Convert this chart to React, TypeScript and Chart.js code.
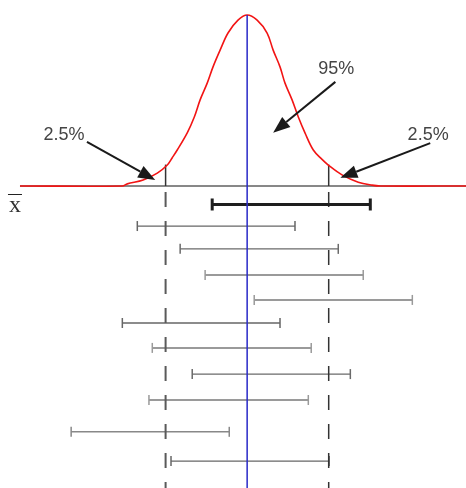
import React, { useEffect, useRef } from "react";
import { Chart, registerables } from "chart.js";

Chart.register(...registerables);

// Sampling distribution curve (z units vs density)
const curveZ = [-5.46, -3.0, -2.88, -2.5, -2.16, -1.92, -1.8, -1.68, -1.44, -1.27, -1.13, -0.96, -0.82, -0.65, -0.46, -0.22, 0, 0.24, 0.48, 0.625, 0.79, 0.91, 1.08, 1.23, 1.39, 1.59, 1.8, 1.95, 2.28, 2.67, 3.0, 3.2, 5.26];
const curveDensity = [0, 0, 0.005, 0.014, 0.03, 0.049, 0.066, 0.084, 0.124, 0.161, 0.201, 0.24, 0.278, 0.317, 0.357, 0.387, 0.399, 0.387, 0.357, 0.317, 0.278, 0.24, 0.201, 0.161, 0.124, 0.084, 0.062, 0.049, 0.026, 0.009, 0.002, 0, 0];

const axisStartZ = -5.46;
const axisEndZ = 5.26;
const meanZ = 0;
const peakDensity = 0.399;
const criticalZ = [-1.96, 1.96];
const criticalDensity = 0.05;

// Confidence intervals: row 0 is the highlighted one
const sampleRows = [0, 0.84, 1.73, 2.75, 3.72, 4.62, 5.59, 6.61, 7.62, 8.86, 10];
const intervalLow = [-0.84, -2.64, -1.61, -1.01, 0.17, -3.0, -2.28, -1.32, -2.36, -4.23, -1.83];
const intervalHigh = [2.96, 1.15, 2.19, 2.79, 3.97, 0.79, 1.54, 2.48, 1.47, -0.43, 1.97];
const dashTopRow = -0.49;
const dashBottomRow = 11.05;

// Annotations
const labelTexts = ["2.5%", "95%", "2.5%"];
const labelZ = [-4.4, 2.14, 4.35];
const labelDensity = [0.119, 0.274, 0.119];
const arrowFromZ = [-3.85, 2.12, 4.4];
const arrowFromDensity = [0.103, 0.243, 0.1];
const arrowToZ = [-2.21, 0.625, 2.24];
const arrowToDensity = [0.014, 0.124, 0.019];
const xbarLabel = "x";
const xbarZ = -5.58;
const xbarDensity = -0.061;

// styles (kept apart from the data)
const rowColors = ["#1e1e1e", "#666", "#6a6a6a", "#9a9a9a", "#9a9a9a", "#666", "#9a9a9a", "#6a6a6a", "#9a9a9a", "#888", "#666"];
const rowWidths = [3, 1.3, 1.3, 2, 2, 1.3, 2, 1.3, 2, 1.5, 1.3];
const rowCapRadius = [6, 5, 5, 5, 5, 5, 5, 5, 5, 5, 5];

const annotationPlugin = {
  id: "annotations",
  afterDatasetsDraw(chart: any) {
    const ctx = chart.ctx as CanvasRenderingContext2D;
    const xs = chart.scales.x;
    const ys = chart.scales.y;
    ctx.save();
    // arrows
    for (let i = 0; i < arrowFromZ.length; i++) {
      const x0 = xs.getPixelForValue(arrowFromZ[i]);
      const y0 = ys.getPixelForValue(arrowFromDensity[i]);
      const x1 = xs.getPixelForValue(arrowToZ[i]);
      const y1 = ys.getPixelForValue(arrowToDensity[i]);
      const ang = Math.atan2(y1 - y0, x1 - x0);
      const headLen = 17;
      const headHalf = 6.5;
      const bx = x1 - Math.cos(ang) * headLen;
      const by = y1 - Math.sin(ang) * headLen;
      ctx.strokeStyle = "#1a1a1a";
      ctx.fillStyle = "#1a1a1a";
      ctx.lineWidth = 2;
      ctx.beginPath();
      ctx.moveTo(x0, y0);
      ctx.lineTo(bx, by);
      ctx.stroke();
      ctx.beginPath();
      ctx.moveTo(x1, y1);
      ctx.lineTo(bx + Math.sin(ang) * headHalf, by - Math.cos(ang) * headHalf);
      ctx.lineTo(bx - Math.sin(ang) * headHalf, by + Math.cos(ang) * headHalf);
      ctx.closePath();
      ctx.fill();
    }
    // percentage labels
    ctx.font = '18px "Liberation Sans", Arial, sans-serif';
    ctx.fillStyle = "#444";
    ctx.textAlign = "center";
    ctx.textBaseline = "middle";
    for (let i = 0; i < labelTexts.length; i++) {
      ctx.fillText(labelTexts[i], xs.getPixelForValue(labelZ[i]), ys.getPixelForValue(labelDensity[i]));
    }
    // x-bar label
    const fx = xs.getPixelForValue(xbarZ);
    const fy = ys.getPixelForValue(xbarDensity);
    ctx.font = '24px "Liberation Serif", "Times New Roman", serif';
    ctx.fillStyle = "#333";
    ctx.textBaseline = "alphabetic";
    ctx.fillText(xbarLabel, fx, fy);
    const w = ctx.measureText(xbarLabel).width;
    ctx.strokeStyle = "#222";
    ctx.lineWidth = 1;
    ctx.beginPath();
    ctx.moveTo(fx - w / 2 - 1, Math.round(fy - 18) + 0.5);
    ctx.lineTo(fx + w / 2 + 1, Math.round(fy - 18) + 0.5);
    ctx.stroke();
    ctx.restore();
  },
};

export default function App() {
  const ref = useRef<HTMLCanvasElement | null>(null);
  useEffect(() => {
    document.body.style.margin = "0";
    const canvas = ref.current;
    if (!canvas) return;

    const datasets: any[] = [];
    // blue mean line (top)
    datasets.push({
      data: [
        { x: meanZ, y: peakDensity },
        { x: meanZ, y: -0.7046 },
      ],
      yAxisID: "y",
      borderColor: "#2a2ac8",
      borderWidth: 1.5,
      pointRadius: 0,
      showLine: true,
      order: 0,
    });
    // curve
    datasets.push({
      data: curveZ.map((z, i) => ({ x: z, y: curveDensity[i] })),
      yAxisID: "y",
      borderColor: "#f21414",
      borderWidth: 1.6,
      pointRadius: 0,
      showLine: true,
      tension: 0.35,
      order: 1,
    });
    // baseline
    datasets.push({
      data: [
        { x: axisStartZ, y: 0 },
        { x: axisEndZ, y: 0 },
      ],
      yAxisID: "y",
      borderColor: "#111",
      borderWidth: 1,
      pointRadius: 0,
      showLine: true,
      order: 3,
    });
    // critical short verticals
    criticalZ.forEach((z) => {
      datasets.push({
        data: [
          { x: z, y: 0 },
          { x: z, y: criticalDensity },
        ],
        yAxisID: "y",
        borderColor: "#333",
        borderWidth: 1.5,
        pointRadius: 0,
        showLine: true,
        order: 2,
      });
    });
    // dashed critical lines
    criticalZ.forEach((z, i) => {
      datasets.push({
        data: [
          { x: z, y: dashTopRow },
          { x: z, y: dashBottomRow },
        ],
        yAxisID: "yr",
        borderColor: i === 0 ? "#5a5a5a" : "#333",
        borderWidth: i === 0 ? 2 : 1.5,
        borderDash: [15, 14],
        pointRadius: 0,
        showLine: true,
        order: 4,
      });
    });
    // intervals
    sampleRows.forEach((r, i) => {
      datasets.push({
        data: [
          { x: intervalLow[i], y: r },
          { x: intervalHigh[i], y: r },
        ],
        yAxisID: "yr",
        borderColor: rowColors[i],
        borderWidth: rowWidths[i],
        pointStyle: "line",
        rotation: 90,
        pointRadius: rowCapRadius[i],
        pointBorderWidth: i === 0 ? 3 : 1.5,
        pointBorderColor: rowColors[i],
        pointBackgroundColor: rowColors[i],
        showLine: true,
        order: i === 0 ? 2 : 5,
      });
    });

    const chart = new Chart(canvas, {
      type: "scatter",
      data: { datasets },
      options: {
        animation: false,
        responsive: false,
        events: [],
        layout: { padding: 0, autoPadding: false },
        plugins: { legend: { display: false }, tooltip: { enabled: false } },
        scales: {
          x: { type: "linear", min: -5.94, max: 5.26, display: false },
          y: { type: "linear", min: -0.7046, max: 0.434, display: false },
          yr: { type: "linear", min: -7.97, max: 11.05, reverse: true, display: false },
        },
      },
      plugins: [annotationPlugin],
    });
    return () => chart.destroy();
  }, []);
  return (
    <div style={{ width: 466, height: 488, background: "#fff" }}>
      <canvas ref={ref} width={466} height={488} style={{ display: "block" }} />
    </div>
  );
}
